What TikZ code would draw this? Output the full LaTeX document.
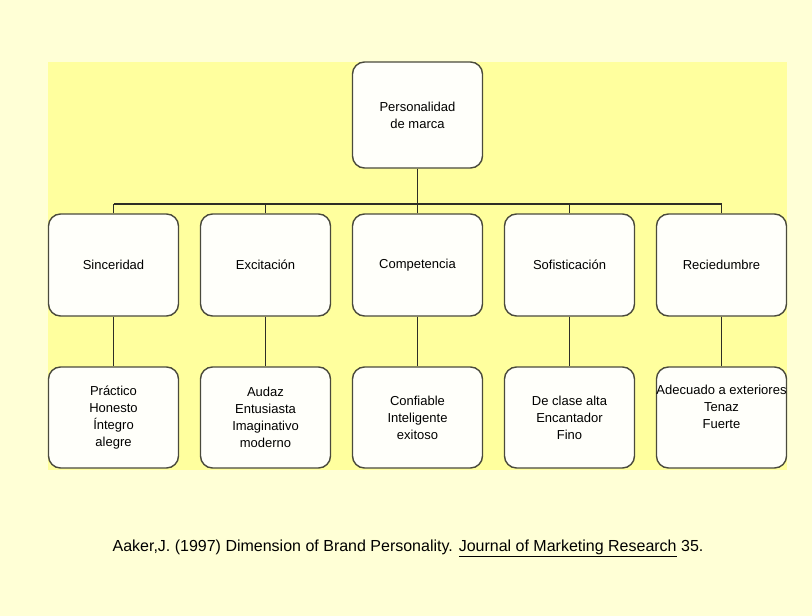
\documentclass[tikz,border=0pt]{standalone}
\usepackage{fontspec}
\setmainfont{Liberation Sans}
\definecolor{bgcol}{HTML}{FFFFD6}
\definecolor{panel}{HTML}{FFFF9E}
\definecolor{boxfill}{HTML}{FFFFFA}
\definecolor{boxline}{HTML}{4A4A3C}
\definecolor{linecol}{HTML}{2E2E26}
\begin{document}
\begin{tikzpicture}[x=1pt,y=-1pt,
  box/.style={draw=boxline, fill=boxfill, rounded corners=12pt, line width=1.4pt,
    minimum width=130pt, minimum height=102pt, align=center, inner sep=0pt,
    font=\fontsize{13}{17}\selectfont},
  link/.style={draw=linecol, line width=1.3pt}]
\useasboundingbox (0,0) rectangle (812,616);
\fill[bgcol] (0,0) rectangle (812,616);
\fill[panel] (48,62) rectangle (787,470);
% root
\node[box, minimum height=106pt] (root) at (417.5,115) {Personalidad\\de marca};
% level 2
\node[box] (s1) at (113.5,265) {Sinceridad};
\node[box] (s2) at (265.5,265) {Excitación};
\node[box] (s3) at (417.5,265) {Competencia};
\node[box] (s4) at (569.5,265) {Sofisticación};
\node[box] (s5) at (721.5,265) {Reciedumbre};
% level 3
\node[box, minimum height=101pt] (t1) at (113.5,417.5) {Práctico\\Honesto\\Íntegro\\alegre};
\node[box, minimum height=101pt] (t2) at (265.5,417.5) {Audaz\\Entusiasta\\Imaginativo\\moderno};
\node[box, minimum height=101pt] (t3) at (417.5,417.5) {Confiable\\Inteligente\\exitoso};
\node[box, minimum height=101pt] (t4) at (569.5,417.5) {De clase alta\\Encantador\\Fino};
\node[box, minimum height=101pt] (t5) at (721.5,417.5) {Adecuado a exteriores\\Tenaz\\Fuerte\\\strut};
% connectors
\coordinate (busL) at (113.5,204);
\coordinate (busR) at (721.5,204);
\draw[link] (busL) -- (busR);
\draw[link] (root.south) -- (root.south |- busL);
\foreach \n in {s1,s2,s3,s4,s5}{
  \draw[link] (\n.north) -- (\n.north |- busL);
}
\draw[link] (s1.south) -- (t1.north);
\draw[link] (s2.south) -- (t2.north);
\draw[link] (s3.south) -- (t3.north);
\draw[link] (s4.south) -- (t4.north);
\draw[link] (s5.south) -- (t5.north);
% citation
\node[font=\fontsize{16}{19}\selectfont, inner sep=0pt] (cite) at (408,548)
  {Aaker,J. (1997) Dimension of Brand Personality. \underline{Journal of Marketing Research} 35.};
\end{tikzpicture}
\end{document}
